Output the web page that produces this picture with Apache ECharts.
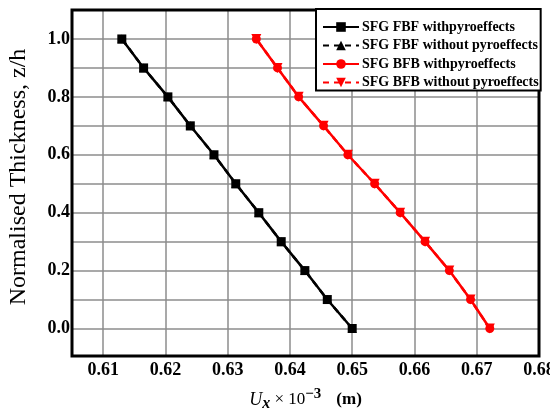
<!DOCTYPE html>
<html>
<head>
<meta charset="utf-8">
<script src="https://cdn.jsdelivr.net/npm/echarts@6/dist/echarts.min.js"></script>
<style>html,body{margin:0;padding:0;background:#fff}#c{width:550px;height:419px}</style>
</head>
<body>
<div id="c"></div>
<script>
// Data
var zh = [0.0, 0.1, 0.2, 0.3, 0.4, 0.5, 0.6, 0.7, 0.8, 0.9, 1.0];
var fbfWith    = [0.6500, 0.6460, 0.6424, 0.6386, 0.6350, 0.6313, 0.6278, 0.6240, 0.6204, 0.6165, 0.6130];
var fbfWithout = [0.6500, 0.6460, 0.6424, 0.6386, 0.6350, 0.6313, 0.6278, 0.6240, 0.6204, 0.6165, 0.6130];
var bfbWith    = [0.6721, 0.6690, 0.6656, 0.6617, 0.6577, 0.6536, 0.6493, 0.6454, 0.6414, 0.6380, 0.6346];
var bfbWithout = [0.6721, 0.6690, 0.6656, 0.6617, 0.6577, 0.6536, 0.6493, 0.6454, 0.6414, 0.6380, 0.6346];
var xTicks = [0.61, 0.62, 0.63, 0.64, 0.65, 0.66, 0.67, 0.68];
var yGrid = [0.0, 0.1, 0.2, 0.3, 0.4, 0.5, 0.6, 0.7, 0.8, 0.9, 1.0];
var yLabels = [0.0, 0.2, 0.4, 0.6, 0.8, 1.0];
var names = ['SFG FBF withpyroeffects', 'SFG FBF without pyroeffects', 'SFG BFB withpyroeffects', 'SFG BFB without pyroeffects'];

function pairs(xs) { return xs.map(function (x, i) { return [x, zh[i]]; }); }

var FONT = '"Liberation Serif", "Times New Roman", serif';
var chart = echarts.init(document.getElementById('c'), null, { renderer: 'canvas' });

function mkSeries(name, data, color, symbol, dashed, size) {
  return {
    name: name, type: 'line', data: pairs(data),
    symbol: symbol, symbolSize: size, showSymbol: true,
    itemStyle: { color: color },
    lineStyle: { color: color, width: 2.5, type: dashed ? [6, 5] : 'solid' },
    emphasis: { disabled: true }, animation: false, z: dashed ? 3 : 2
  };
}

chart.setOption({
  backgroundColor: '#fff',
  animation: false,
  grid: { left: 72, right: 11, top: 10, bottom: 63, outerBoundsMode: 'none', containLabel: false,
    show: true, borderColor: '#000', borderWidth: 3, backgroundColor: 'transparent', z: 5 },
  legend: {
    orient: 'vertical', left: 316, top: 9,
    itemWidth: 36, itemHeight: 12, itemGap: 4.5,
    backgroundColor: '#fff', borderColor: '#000', borderWidth: 2,
    padding: [11, 2, 1, 6],
    textStyle: { fontFamily: FONT, fontWeight: 'bold', fontSize: 14, lineHeight: 14, color: '#000', padding: [0, 0, 0, -2] },
    data: names, z: 10
  },
  xAxis: {
    type: 'value', min: 0.605, max: 0.68,
    axisLine: { show: false },
    axisTick: { show: false, customValues: xTicks },
    axisLabel: { customValues: xTicks, color: '#000', fontFamily: FONT, fontWeight: 'bold', fontSize: 18, margin: 5,
      formatter: function (v) { return v.toFixed(2); } },
    splitLine: { show: true, lineStyle: { color: '#8c8c8c', width: 1.5 } },
    name: '{u|U}{sub|x}{n| × 10}{sup|−3}{sp|}{b|(m)}',
    nameLocation: 'middle', nameGap: 31,
    nameTextStyle: {
      color: '#000', fontFamily: FONT,
      rich: {
        u: { fontFamily: FONT, fontStyle: 'italic', fontSize: 18, color: '#000' },
        sub: { fontFamily: FONT, fontStyle: 'italic', fontWeight: 'bold', fontSize: 16, color: '#000', padding: [7, 0, 0, 0] },
        n: { fontFamily: FONT, fontSize: 17, color: '#000' },
        sup: { fontFamily: FONT, fontWeight: 'bold', fontSize: 15, color: '#000', padding: [0, 0, 11, 0] },
        sp: { width: 15 },
        b: { fontFamily: FONT, fontWeight: 'bold', fontSize: 17, color: '#000' }
      }
    }
  },
  yAxis: {
    type: 'value', min: -0.095, max: 1.1,
    axisLine: { show: false },
    axisTick: { show: false, customValues: yGrid },
    axisLabel: { customValues: yLabels, color: '#000', fontFamily: FONT, fontWeight: 'bold', fontSize: 18, margin: 2,
      padding: [9, 0, 0, 0],
      formatter: function (v) { return v.toFixed(1); } },
    splitLine: { show: true, lineStyle: { color: '#8c8c8c', width: 1.5 } },
    name: 'Normalised Thickness, z/h',
    nameLocation: 'middle', nameGap: 41, nameRotate: 90,
    nameTextStyle: { color: '#000', fontFamily: FONT, fontSize: 24, padding: [0, 0, 0, 12] }
  },
  series: [
    mkSeries(names[0], fbfWith, '#000', 'rect', false, 9),
    mkSeries(names[1], fbfWithout, '#000', 'triangle', true, 9),
    mkSeries(names[2], bfbWith, '#ff0000', 'circle', false, 9),
    Object.assign(mkSeries(names[3], bfbWithout, '#ff0000', 'triangle', true, 10), { symbolRotate: 180 })
  ]
});
</script>
</body>
</html>
